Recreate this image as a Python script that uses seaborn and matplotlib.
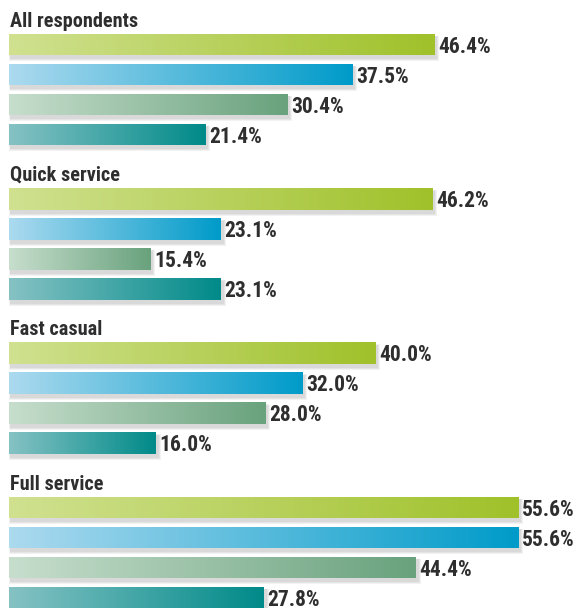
import numpy as np
import pandas as pd
import matplotlib
matplotlib.use("Agg")
import matplotlib.pyplot as plt
import seaborn as sns
from matplotlib.patches import Rectangle
from matplotlib.colors import to_rgb
from matplotlib import font_manager as fm

# ---- data ----
groups = ["All respondents", "Quick service", "Fast casual", "Full service"]
series = ["Series 1", "Series 2", "Series 3", "Series 4"]
series1 = [46.4, 46.2, 40.0, 55.6]
series2 = [37.5, 23.1, 32.0, 55.6]
series3 = [30.4, 15.4, 28.0, 44.4]
series4 = [21.4, 23.1, 16.0, 27.8]

grad_left = ["#d0e190", "#acdaef", "#c7decd", "#86c2c4"]
grad_right = ["#a0c12a", "#009bc9", "#69a27d", "#008a89"]

sns.set_theme(style="white")


def _wnum(w):
    if isinstance(w, (int, float)):
        return w
    return {"bold": 700, "semibold": 600, "demibold": 600, "heavy": 800,
            "black": 900, "extra bold": 800}.get(str(w).lower(), 400)


def pick_font():
    prefs = ["Roboto Condensed", "Archivo Narrow", "Barlow Semi Condensed",
             "PT Sans Narrow", "Asap Condensed", "Barlow Condensed"]
    for name in prefs:
        hits = [f for f in fm.fontManager.ttflist
                if f.name == name and f.style == "normal"]
        if hits:
            hits.sort(key=lambda f: abs(_wnum(f.weight) - 700))
            return hits[0].fname
    for f in fm.fontManager.ttflist:
        if "DejaVuSansCondensed-Bold.ttf" in f.fname:
            return f.fname
    return None


font_file = pick_font()


def fkw(size):
    if font_file:
        return dict(fontproperties=fm.FontProperties(fname=font_file, size=size))
    return dict(family=["DejaVu Sans"], fontweight="bold", fontsize=size)


W, H = 580, 608
px_per_pct = 9.16
pitch_px = 30.0
x_left_px = 9
first_center = 44.5 / pitch_px
group_pitch = 154.3 / pitch_px

rows = []
for g, grp in enumerate(groups):
    for i, (s, vals) in enumerate(zip(series, [series1, series2, series3, series4])):
        rows.append(dict(group=grp, series=s, value=vals[g],
                         ypos=first_center + g * group_pitch + i))
df = pd.DataFrame(rows)

fig = plt.figure(figsize=(W / 100, H / 100), dpi=100)
ax = fig.add_axes([0, 0, 1, 1])

palette = dict(zip(series, grad_right))
sns.barplot(data=df, x="value", y="ypos", hue="series", palette=palette,
            orient="h", native_scale=True, dodge=False, width=0.72,
            errorbar=None, legend=False, ax=ax)

pxx = 1.0 / px_per_pct
pxy = 1.0 / pitch_px
t = np.linspace(0, 1, 256)[None, :, None]

for p in list(ax.patches):
    x0, y0 = p.get_x(), p.get_y()
    w, h = p.get_width(), p.get_height()
    if w <= 0:
        continue
    yc = y0 + h / 2
    idx = (df["ypos"] - yc).abs().idxmin()
    si = series.index(df.loc[idx, "series"])
    p.set_zorder(2)
    p.set_linewidth(0)
    for k in [3, 2, 1]:
        ax.add_patch(Rectangle((x0 + 2 * pxx - k * pxx * 0.5, y0 + 3 * pxy - k * pxy * 0.3),
                               w + k * pxx * 1.5, h + k * pxy * 1.3,
                               facecolor="black", alpha=0.05, lw=0, zorder=1))
    lc = np.array(to_rgb(grad_left[si]))[None, None, :]
    rc = np.array(to_rgb(grad_right[si]))[None, None, :]
    img = lc * (1 - t) + rc * t
    im = ax.imshow(img, extent=[x0, x0 + w, y0 + h, y0], aspect="auto",
                   interpolation="bilinear", zorder=3)
    im.set_clip_path(p)
    ax.text(x0 + w + 4 * pxx, yc + 8.3 * pxy, f"{df.loc[idx, 'value']:.1f}%",
            ha="left", va="baseline", color="#2e2e2e", zorder=4, **fkw(15.5))

for g, grp in enumerate(groups):
    yc = first_center + g * group_pitch
    ax.text(0.1, yc - 17.8 * pxy, grp, ha="left", va="baseline",
            color="#2e2e2e", **fkw(14.6))

ax.set_xlim(-x_left_px / px_per_pct, (W - x_left_px) / px_per_pct)
ax.set_ylim(H / pitch_px, 0)
ax.axis("off")
fig.savefig("out.png", dpi=100)
